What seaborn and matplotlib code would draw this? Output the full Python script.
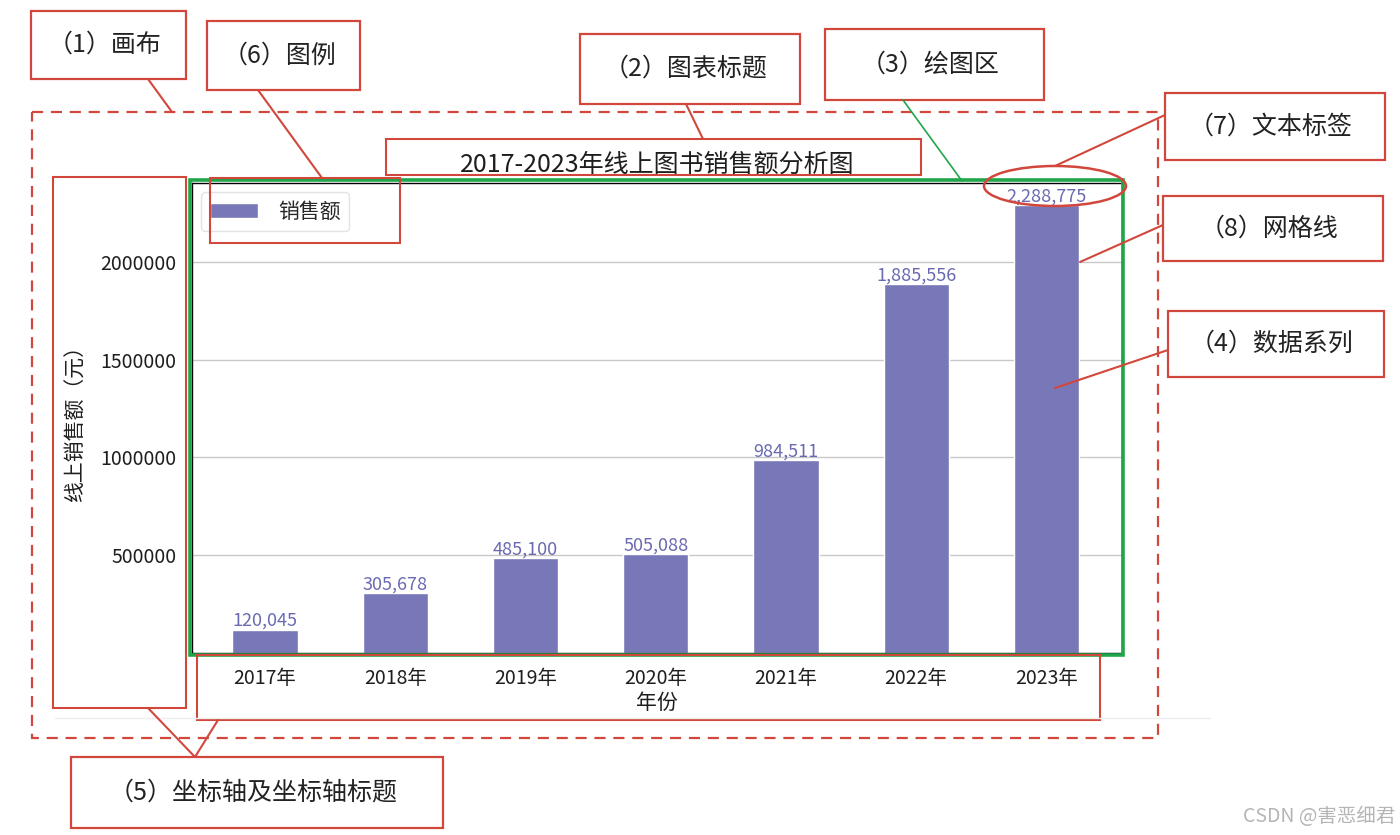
#Annotated anatomy of a bar chart: online book sales 2017-2023
import numpy as np
import seaborn as sns
import matplotlib.pyplot as plt
from matplotlib.patches import Rectangle, Ellipse
from matplotlib.ticker import FuncFormatter

years = ['2017年', '2018年', '2019年', '2020年', '2021年', '2022年', '2023年']
sales = [120045, 305678, 485100, 505088, 984511, 1885556, 2288775]
y_ticks = [500000, 1000000, 1500000, 2000000]

title = '2017-2023年线上图书销售额分析图'
legend_label = '销售额'
x_title = '年份'
y_title = '线上销售额（元）'

part_names = ['（1）画布', '（6）图例', '（2）图表标题', '（3）绘图区',
              '（7）文本标签', '（8）网格线', '（4）数据系列', '（5）坐标轴及坐标轴标题']

bar_color = '#7878b8'
red = '#d2473c'
green = '#1fa64a'
ink = '#1e1e1e'

sns.set_theme(style='whitegrid')
plt.rcParams['font.family'] = ['Noto Sans CJK SC', 'DejaVu Sans']
plt.rcParams['axes.unicode_minus'] = False

fig = plt.figure(figsize=(14, 8.35), dpi=100)
W, H = 1400, 835

# main chart, placed in pixel terms
ax = fig.add_axes([192 / W, (H - 653) / H, 930 / W, 470 / H])
sns.barplot(x=years, y=sales, color=bar_color, saturation=1, width=0.5,
            label=legend_label, ax=ax)
ax.bar_label(ax.containers[0], labels=[f'{v:,}' for v in sales],
             color='#6a6ab2', fontsize=13, padding=0)

ax.set_xlim(-0.56, len(years) - 0.42)
ax.set_ylim(0, max(sales) * 1.05)
ax.set_yticks(y_ticks)
ax.yaxis.set_major_formatter(FuncFormatter(lambda v, p: f'{int(v)}'))
ax.grid(axis='x', visible=False)
ax.grid(axis='y', color='#c8c8c8', linewidth=1)
ax.tick_params(axis='both', length=5, width=1, color='black', labelsize=14,
               labelcolor=ink, direction='out', pad=6)
for sp in ax.spines.values():
    sp.set_color('black')
    sp.set_linewidth(1)

ax.set_title(title, fontsize=18, color=ink, pad=8)
ax.set_xlabel(x_title, fontsize=15, color=ink, labelpad=2)
ax.set_ylabel(y_title, fontsize=15, color=ink, labelpad=10)
ax.legend(loc='upper left', fontsize=15, handlelength=2.3, handleheight=0.8,
          handletextpad=1.0, borderaxespad=0.45, frameon=True, fancybox=True,
          edgecolor='#dddddd')

# overlay in pixel coordinates for the annotation layer
ov = fig.add_axes([0, 0, 1, 1], zorder=10)
ov.set_xlim(0, W)
ov.set_ylim(H, 0)
ov.axis('off')
ov.patch.set_alpha(0)

# faint edge of the original canvas
ov.plot([55, 1210], [718, 718], color='#eeeeee', lw=1)

# canvas (dashed)
ov.add_patch(Rectangle((32, 112), 1158 - 32, 738 - 112, fill=False,
                       edgecolor=red, lw=1.6, linestyle=(0, (5, 3.5))))

# plot area (green)
ov.add_patch(Rectangle((190, 180), 1123 - 190, 655 - 180, fill=False,
                       edgecolor=green, lw=2.6))

# element frames without captions
frames = [(386, 139, 921, 175), (210, 178, 400, 243),
          (53, 177, 186, 708), (197, 655, 1100, 720)]
for x0, y0, x1, y1 in frames:
    ov.add_patch(Rectangle((x0, y0), x1 - x0, y1 - y0, fill=False,
                           edgecolor=red, lw=1.5))

# caption boxes
boxes = [(31, 11, 186, 79), (207, 21, 360, 90), (580, 34, 800, 104),
         (825, 29, 1044, 100), (1165, 93, 1385, 160), (1163, 196, 1383, 261),
         (1168, 311, 1384, 377), (71, 757, 443, 828)]
for name, (x0, y0, x1, y1) in zip(part_names, boxes):
    ov.add_patch(Rectangle((x0, y0), x1 - x0, y1 - y0, facecolor='white',
                           edgecolor=red, lw=1.6))
    ov.text((x0 + x1) / 2 - 4, (y0 + y1) / 2, name, ha='center', va='center',
            fontsize=18, color='#222222')

# leader lines
leaders = [((148, 79), (172, 112)), ((258, 90), (322, 178)),
           ((686, 104), (703, 139)), ((1165, 115), (1055, 166)),
           ((1163, 225), (1080, 262)), ((1168, 350), (1055, 388)),
           ((148, 708), (195, 757)), ((218, 720), (195, 757))]
for (xa, ya), (xb, yb) in leaders:
    ov.plot([xa, xb], [ya, yb], color=red, lw=1.5)
ov.plot([903, 962], [100, 181], color=green, lw=1.2)

# highlight on the data label
ov.add_patch(Ellipse((1055, 186), 142, 40, fill=False, edgecolor=red, lw=1.8))

fig.text(1395 / W, 8 / H, 'CSDN @害恶细君', ha='right', va='bottom',
         fontsize=14, color='#b5b5b5')

plt.savefig('out.png', dpi=100)
